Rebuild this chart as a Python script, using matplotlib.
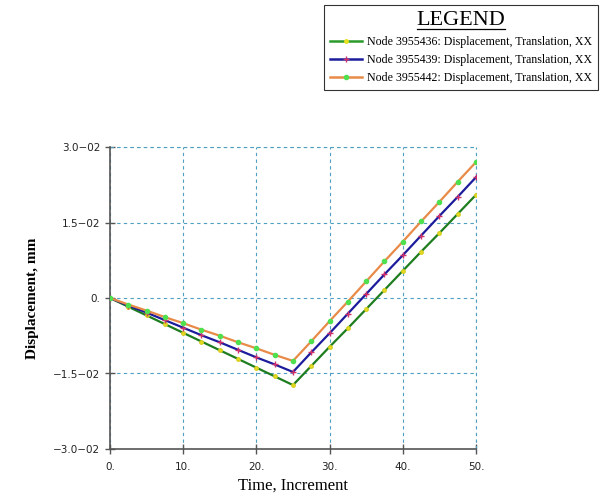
import matplotlib.pyplot as plt
from matplotlib.lines import Line2D

# time increments and nodal displacement (mm)
time = [0, 2.5, 5, 7.5, 10, 12.5, 15, 17.5, 20, 22.5, 25,
        27.5, 30, 32.5, 35, 37.5, 40, 42.5, 45, 47.5, 50]
node_436 = [0, -0.00173, -0.00346, -0.00519, -0.00692, -0.00865, -0.01038,
            -0.01211, -0.01384, -0.01557, -0.0173,
            -0.0135, -0.0097, -0.0060, -0.0022, 0.0016, 0.0054, 0.0092,
            0.0129, 0.0167, 0.0205]
node_439 = [0, -0.0015, -0.0029, -0.0044, -0.0059, -0.0074, -0.0088,
            -0.0103, -0.0118, -0.0132, -0.0147,
            -0.0108, -0.0070, -0.0031, 0.0008, 0.0047, 0.0085, 0.0124,
            0.0163, 0.0201, 0.0240]
node_442 = [0, -0.0013, -0.0025, -0.0038, -0.0050, -0.0063, -0.0075,
            -0.0088, -0.0100, -0.0113, -0.0125,
            -0.0086, -0.0046, -0.0007, 0.0033, 0.0073, 0.0112, 0.0152,
            0.0191, 0.0231, 0.0270]

labels = ['Node 3955436: Displacement, Translation, XX',
          'Node 3955439: Displacement, Translation, XX',
          'Node 3955442: Displacement, Translation, XX']

x_ticks = [0, 10, 20, 30, 40, 50]
x_tick_labels = ['0.', '10.', '20.', '30.', '40.', '50.']
y_ticks = [-0.03, -0.015, 0, 0.015, 0.03]
y_tick_labels = ['\u22123.0\u221202', '\u22121.5\u221202', '0.', '1.5\u221202', '3.0\u221202']

serif = 'Liberation Serif'
grid_col = '#4f9fc0'

fig = plt.figure(figsize=(6.01, 4.98), dpi=100)
ax = fig.add_axes([0.183, 0.0984, 0.609, 0.6064])

# lines with markers
ax.plot(time, node_436, color='#1e7d1e', lw=1.6, marker='o', ms=2.5,
        mfc='#e8e020', mec='#d8d020', label=labels[0], zorder=3)
ax.plot(time, node_439, color='#1c1c9c', lw=1.6, marker='+', ms=5,
        mec='#d0306a', mew=1.0, label=labels[1], zorder=3)
ax.plot(time, node_442, color='#e88a48', lw=1.6, marker='o', ms=3,
        mfc='#4ee04e', mec='#4ee04e', label=labels[2], zorder=3)

ax.set_xlim(0, 50)
ax.set_ylim(-0.03, 0.03)
ax.set_xticks(x_ticks)
ax.set_xticklabels(x_tick_labels)
ax.set_yticks(y_ticks)
ax.set_yticklabels(y_tick_labels)
ax.tick_params(direction='inout', length=7, width=1, color='#555555',
               labelsize=7.5, labelcolor='#222222')
ax.tick_params(axis='x', pad=6)

# dashed grid (incl. top/right limits)
ax.grid(True, color=grid_col, linestyle=(0, (3, 3)), linewidth=0.8)
for side in ['top', 'right']:
    ax.spines[side].set_visible(False)
for side in ['left', 'bottom']:
    ax.spines[side].set_color('#555555')
    ax.spines[side].set_linewidth(1.2)
ax.axhline(0.03, color=grid_col, linestyle=(0, (3, 3)), linewidth=0.8, clip_on=False)
ax.axvline(50, color=grid_col, linestyle=(0, (3, 3)), linewidth=0.8, clip_on=False)

ax.set_xlabel('Time, Increment', fontsize=12, family=serif, labelpad=4)
ax.set_ylabel('Displacement, mm', fontsize=11, family=serif, fontweight='bold', labelpad=10)

# legend box in the top right
handles = [Line2D([0], [0], color='#2a9a2a', lw=1.8, marker='o', ms=2.5,
                  mfc='#e8e020', mec='#e8e020'),
           Line2D([0], [0], color='#1c1c9c', lw=1.8, marker='+', ms=5,
                  mec='#d0306a'),
           Line2D([0], [0], color='#e88a48', lw=1.8, marker='o', ms=3,
                  mfc='#4ee04e', mec='#4ee04e')]
leg = fig.legend(handles, labels, loc='upper right',
                 bbox_to_anchor=(0.995, 0.99), numpoints=1,
                 prop={'family': serif, 'size': 8.6}, title='LEGEND',
                 title_fontproperties={'family': serif, 'size': 16},
                 frameon=True, fancybox=False, edgecolor='black',
                 borderpad=0.5, labelspacing=0.5, handlelength=2.7,
                 handletextpad=0.4, borderaxespad=0)
leg.get_frame().set_linewidth(0.8)

# underline the legend title
fig.canvas.draw()
bb = leg.get_title().get_window_extent().transformed(fig.transFigure.inverted())
fig.add_artist(Line2D([bb.x0, bb.x1], [bb.y0 + 0.002, bb.y0 + 0.002],
                      color='black', lw=0.9, transform=fig.transFigure,
                      zorder=10))

fig.savefig('out.png', dpi=100)
